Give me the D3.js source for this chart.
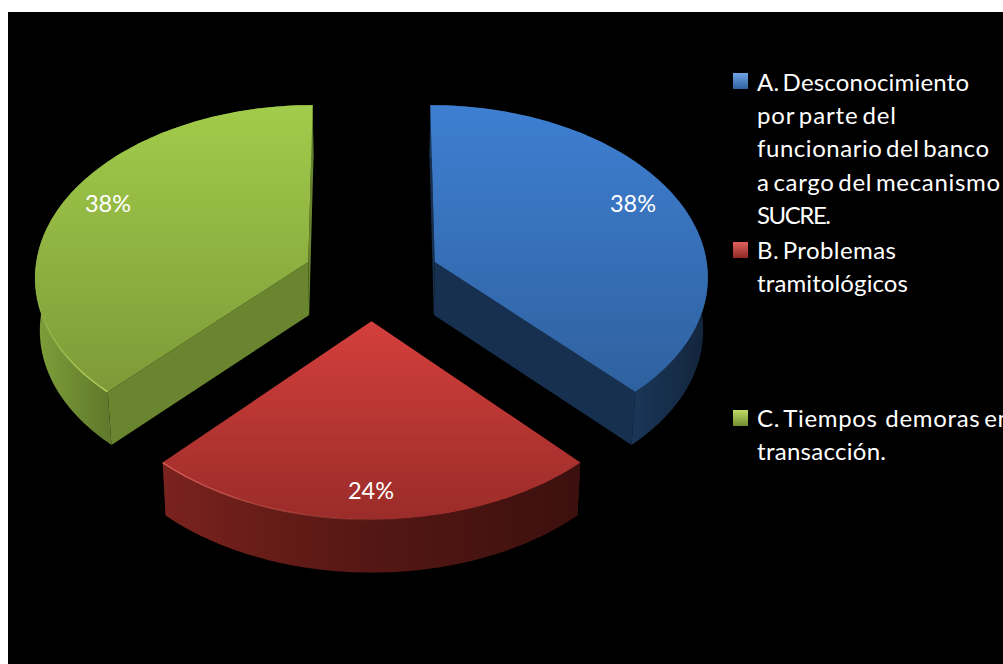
<!DOCTYPE html>
<html><head><meta charset="utf-8">
<script src="https://cdn.jsdelivr.net/npm/d3@7"></script>
<style>html,body{margin:0;padding:0;background:#fff;overflow:hidden}svg{display:block}</style>
</head><body><svg id="c" width="1003" height="664"></svg>
<script>
const categories = ["A","B","C"];
const values = [38, 24, 38];
const percentLabels = ["38%","24%","38%"];
const legendLines = [
  ["A. Desconocimiento","por parte del","funcionario del banco","a cargo del mecanismo","SUCRE."],
  ["B. Problemas","tramitológicos"],
  ["C. Tiempos  demoras en","transacción."]
];
const legendWidths = [[212,139,232,243,74],[139,151],[254,129]];
const topColors = [["#3e7fd2","#2f619f"],["#d43f3c","#9a2c29"],["#a2cc4b","#7c9a38"]];
const rimColors = [["#1a3657","#13243b"],["#7a221e","#541713","#3c100e"],["#7f9f3a","#5f7a2c"]];
const edgeColors = ["#17304f","#4a1412","#6a852f"];
const rimLight = ["#3f7cc8","#e8685f","#bde066"];

const W=1003,H=664,cx=371.5,R=272,E=68,hy=-2000,depth=53,shrink=0.986,persp=0.000274;
const radiusFactor=[1,1.03,1];
const svg=d3.select("#c");
svg.append("rect").attr("x",8).attr("y",12).attr("width",W-8).attr("height",H-12).attr("fill","#000");
const defs=svg.append("defs");
defs.append("filter").attr("id","soft").append("feGaussianBlur").attr("stdDeviation",0.6);
const pie=d3.pie().sort(null).value(d=>d);
const arcs=pie(values);
const line=d3.line().x(d=>d[0]).y(d=>d[1]);
const Z0=-0.368*E;
function proj(X,Z,down){
  const s=1/(1-(Z-Z0)*persp);
  const sy=hy+(262-hy)*s;
  const f=down?shrink:1;
  return [cx+X*s*f, sy+(down?depth:0)];
}
function pt(a,th,r,down){
  const m=(a.startAngle+a.endAngle)/2;
  const ox=E*Math.sin(m), oz=-E*Math.cos(m);
  return proj(ox+r*Math.sin(th), oz-r*Math.cos(th), down);
}
function grad(id,c,x1,y1,x2,y2,ops){
  const g=defs.append("linearGradient").attr("id",id).attr("gradientUnits","userSpaceOnUse")
    .attr("x1",x1).attr("y1",y1).attr("x2",x2).attr("y2",y2);
  c.forEach((col,k)=>{
    g.append("stop").attr("offset",k/(c.length-1)).attr("stop-color",col)
      .attr("stop-opacity",ops?ops[k]:1);
  });
  return `url(#${id})`;
}
arcs.forEach((a,i)=>{
  const r=R*radiusFactor[i];
  const ths=d3.range(0,121).map(k=>a.startAngle+(a.endAngle-a.startAngle)*k/120);
  const topArc=ths.map(t=>pt(a,t,r,false));
  const botArc=ths.map(t=>pt(a,t,r,true));
  const apex=pt(a,0,0,false), apexB=pt(a,0,0,true);
  const g=svg.append("g");
  const xs=topArc.map(d=>d[0]), ys=topArc.concat([apex]).map(d=>d[1]);
  [0,120].forEach(k=>{
    g.append("path").attr("d",line([apex,topArc[k],botArc[k],apexB])+"Z").attr("fill",edgeColors[i]);
  });
  const x1=i===0?topArc[120][0]:d3.min(xs), x2=i===2?topArc[0][0]:d3.max(xs);
  g.append("path").attr("d",line(topArc.concat(botArc.slice().reverse()))+"Z").attr("fill",grad("rim"+i,rimColors[i],x1,0,x2,0));
  g.append("path").attr("d",line([apex].concat(topArc))+"Z").attr("fill",grad("top"+i,topColors[i],0,d3.min(ys),0,d3.max(ys)));
  if(i>0){
    const s=i===1
      ? grad("hl1",[rimLight[1],rimLight[1]],d3.min(xs),0,cx+40,0,[0.8,0])
      : grad("hl2",[rimLight[2],rimLight[2]],0,d3.max(ys),0,apex[1],[0.9,0]);
    g.append("path").attr("d",line(topArc)).attr("fill","none").attr("stroke",s).attr("stroke-width",1.4);
  }
});
const labelPos=[[633,212],[371,499],[108,212]];
percentLabels.forEach((t,i)=>{
  svg.append("text").attr("x",labelPos[i][0]).attr("y",labelPos[i][1]).attr("text-anchor","middle")
    .attr("fill","#fff").attr("font-family","Lato").attr("font-size",23.5).text(t);
});
const legendTop=[91,259,427], swatchY=[73,242,410];
const swatchC=[["#6ea5e6","#2f619f"],["#e0625c","#8f2a27"],["#c0dc66","#6f8c30"]];
legendLines.forEach((ls,i)=>{
  svg.append("rect").attr("x",733).attr("y",swatchY[i]).attr("width",15).attr("height",16)
    .attr("fill",grad("sw"+i,swatchC[i],0,swatchY[i],0,swatchY[i]+16)).attr("filter","url(#soft)");
  ls.forEach((t,j)=>{
    svg.append("text").attr("x",757).attr("y",legendTop[i]+j*33.2).attr("fill","#fff")
      .attr("font-family","Lato").attr("font-size",24).attr("word-spacing",-3)
      .attr("textLength",legendWidths[i][j]).attr("lengthAdjust","spacing")
      .style("white-space","pre").text(t);
  });
});
</script></body></html>
